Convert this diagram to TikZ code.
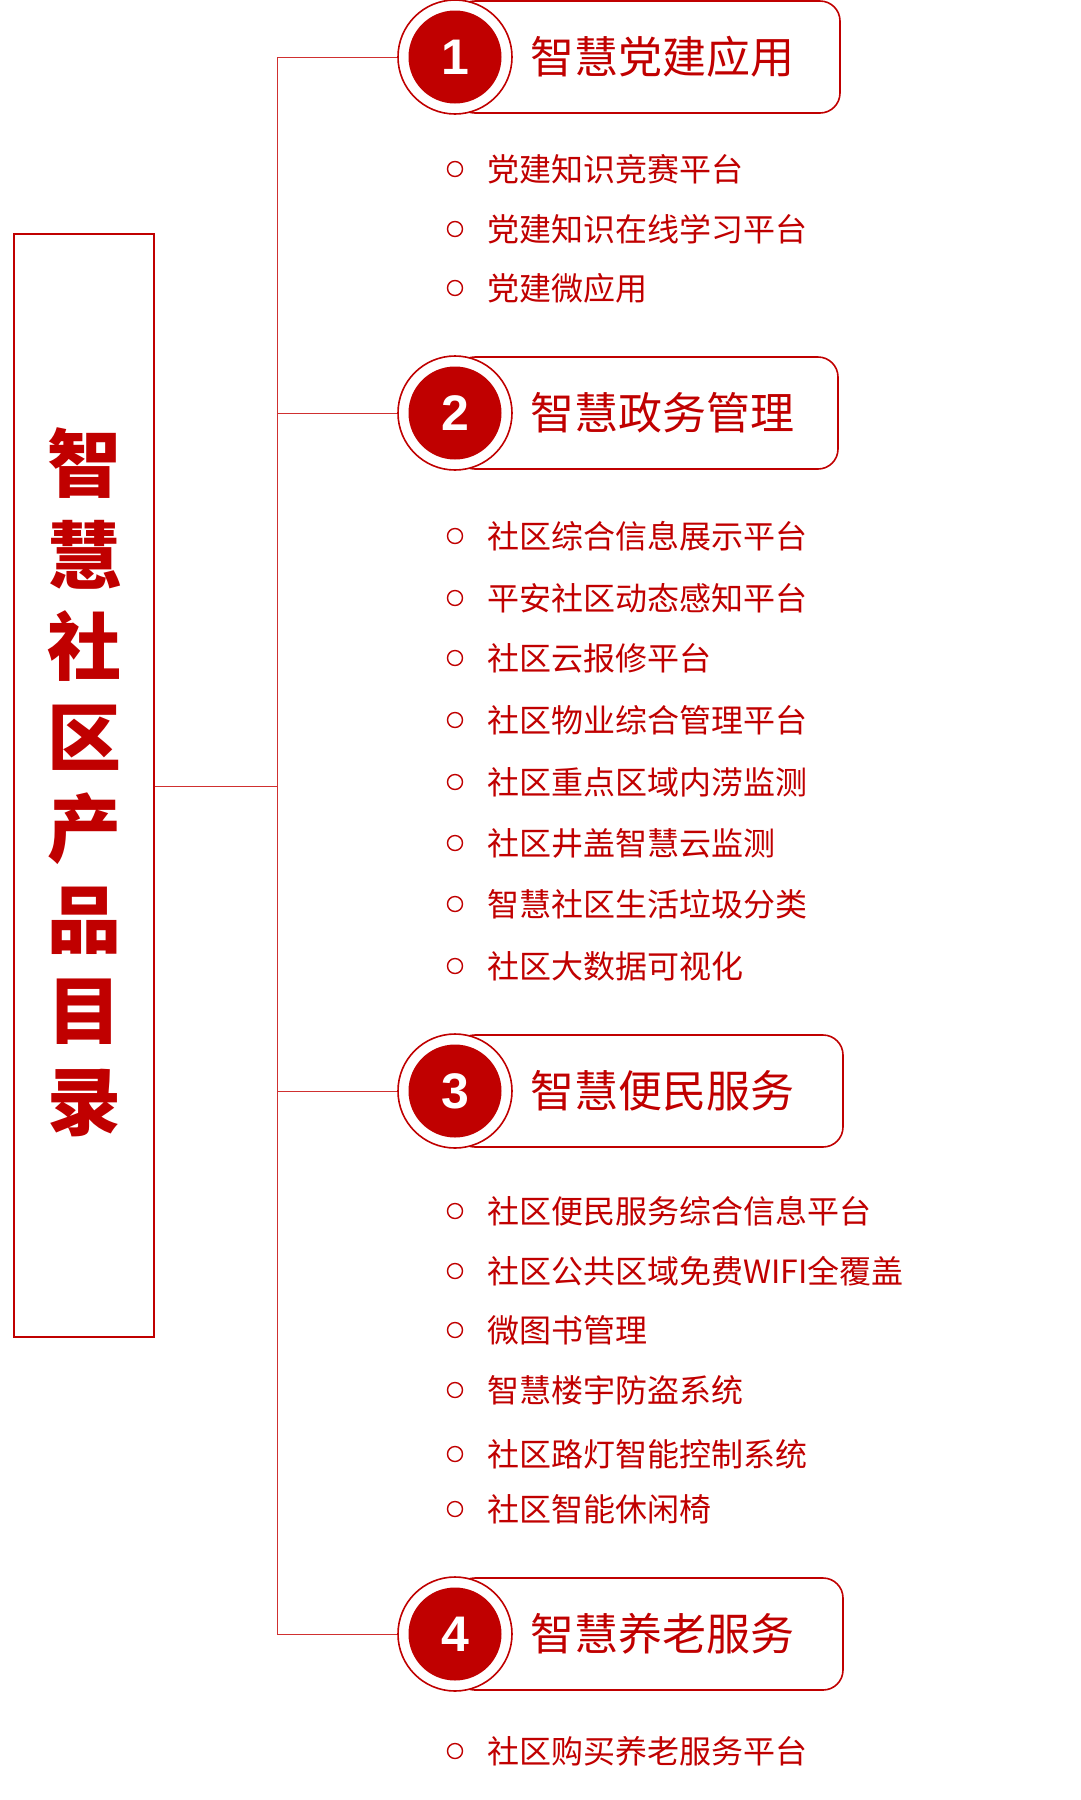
\documentclass[tikz,border=0pt]{standalone}
\usepackage{fontspec}
\setmainfont{Noto Sans CJK SC}
\newfontfamily\numfont{Liberation Sans}
\definecolor{dred}{HTML}{C00000}
\definecolor{lred}{HTML}{D03030}
\begin{document}
\begin{tikzpicture}[x=1pt,y=-1pt,
  hdrbox/.style={draw=dred,line width=1.6pt,rounded corners=20pt},
  ring/.style={circle,draw=dred,line width=1.6pt,fill=white,minimum size=114pt,inner sep=0pt},
  disc/.style={circle,fill=dred,minimum size=93pt,inner sep=0pt,text=white,font=\numfont\bfseries\fontsize{50}{50}\selectfont},
  hdrtxt/.style={anchor=west,text=dred,font=\fontsize{44}{44}\selectfont,inner sep=0pt},
  itm/.style={anchor=west,text=dred,font=\fontsize{32}{32}\selectfont,inner sep=0pt},
  bul/.style={circle,draw=dred,line width=1.4pt,minimum size=15pt,inner sep=0pt},
  conn/.style={draw=lred,line width=0.8pt}]
\useasboundingbox (0,0) rectangle (1080,1800);
\node[draw=dred,line width=1.2pt,minimum width=140pt,minimum height=1103pt,inner sep=0pt] (main) at (84,785.5) {};
\foreach \c [count=\i] in {智,慧,社,区,产,品,目,录}
  \node[text=dred,font=\bfseries\fontsize{74}{74}\selectfont,inner sep=0pt] at (84,{463+(\i-1)*91.5}) {\c};
\coordinate (jn) at (277,786);
\draw[conn] (main.east |- jn) -- (jn);
\foreach \n/\y/\r/\t in {1/57/840/智慧党建应用,2/413/838/智慧政务管理,3/1091/843/智慧便民服务,4/1634/843/智慧养老服务}{
  \draw[hdrbox] (455,\y-56) rectangle (\r,\y+56);
  \node[ring] (r\n) at (455,\y) {};
  \node[disc] at (455,\y) {\n};
  \node[hdrtxt] at (530,\y) {\t};
  \coordinate (b\n) at (277,\y);
  \draw[conn] (b\n) -- (r\n.west);
}
\draw[conn] (b1) -- (b4);
\foreach \y/\t in {169/党建知识竞赛平台,229/党建知识在线学习平台,288/党建微应用,
 536/社区综合信息展示平台,598/平安社区动态感知平台,658/社区云报修平台,720/社区物业综合管理平台,782/社区重点区域内涝监测,843/社区井盖智慧云监测,904/智慧社区生活垃圾分类,966/社区大数据可视化,
 1211/社区便民服务综合信息平台,1271/社区公共区域免费WIFI全覆盖,1330/微图书管理,1390/智慧楼宇防盗系统,1454/社区路灯智能控制系统,1509/社区智能休闲椅,
 1751/社区购买养老服务平台}{
  \node[bul] at (455,\y) {};
  \node[itm] at (487,\y) {\t};
}
\end{tikzpicture}
\end{document}
